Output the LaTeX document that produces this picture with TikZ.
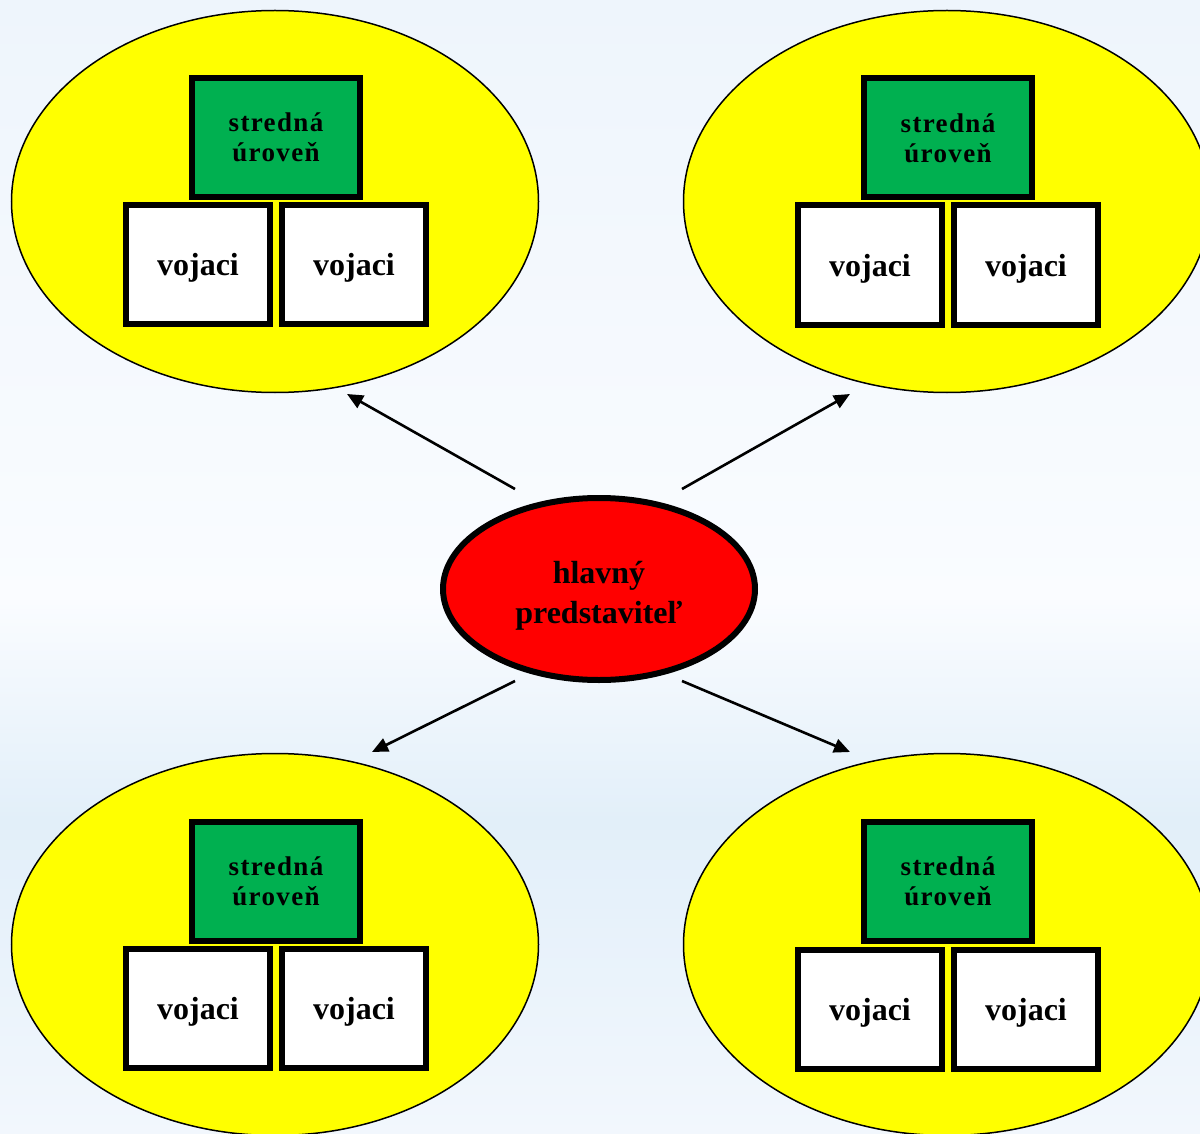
\documentclass[tikz,border=0pt]{standalone}
\usepackage{fontspec}
\setmainfont{Liberation Serif}
\usetikzlibrary{shapes.geometric,arrows.meta}
\definecolor{bgtop}{RGB}{238,245,252}
\definecolor{bgmid}{RGB}{250,252,255}
\definecolor{bgband}{RGB}{226,239,249}
\definecolor{bgbot}{RGB}{242,247,253}
\definecolor{yel}{RGB}{255,255,0}
\definecolor{grn}{RGB}{0,176,80}
\definecolor{rd}{RGB}{255,0,0}
\tikzset{
  group/.style={ellipse, draw=black, line width=1.5pt, fill=yel, inner sep=0pt,
    minimum width=527pt, minimum height=382pt},
  mid/.style={rectangle, draw=black, line width=6pt, fill=grn, inner sep=0pt,
    minimum width=168pt, minimum height=119pt, align=center,
    font=\fontsize{27}{30}\selectfont\bfseries\addfontfeature{LetterSpace=5}},
  soldier/.style={rectangle, draw=black, line width=6pt, fill=white, inner sep=0pt,
    minimum width=144pt, minimum height=119pt, text height=30pt, text depth=7pt,
    font=\fontsize{32}{36}\selectfont\bfseries},
  boss/.style={ellipse, draw=black, line width=6pt, fill=rd, inner sep=0pt,
    minimum width=312pt, minimum height=182pt, align=center,
    font=\fontsize{32}{40}\selectfont\bfseries},
  link/.style={line width=2.6pt, -{Triangle[length=16pt,width=14pt]}}
}
\begin{document}
\begin{tikzpicture}[x=1pt,y=-1pt]
\useasboundingbox (0,0) rectangle (1200,1134);
\clip (0,0) rectangle (1200,1134);
\shade[top color=bgtop, bottom color=bgmid] (0,0) rectangle (1200,600);
\shade[top color=bgmid, bottom color=bgband] (0,600) rectangle (1200,820);
\shade[top color=bgband, bottom color=bgbot] (0,820) rectangle (1200,1134);

% groups
\node[group] (gTL) at (275,201.5) {};
\node[group] (gTR) at (947,201.5) {};
\node[group] (gBL) at (275,944.5) {};
\node[group] (gBR) at (947,944.5) {};

% top-left
\node[mid] (mTL) at (276,137.5) {stredná\\úroveň};
\node[soldier] (sTL1) at (198,264.5) {vojaci};
\node[soldier] (sTL2) at (354,264.5) {vojaci};
% top-right
\node[mid] (mTR) at (948,138) {stredná\\úroveň};
\node[soldier] (sTR1) at (870,265) {vojaci};
\node[soldier] (sTR2) at (1026,265) {vojaci};
% bottom-left
\node[mid] (mBL) at (276,881) {stredná\\úroveň};
\node[soldier] (sBL1) at (198,1008) {vojaci};
\node[soldier] (sBL2) at (354,1008) {vojaci};
% bottom-right
\node[mid] (mBR) at (948,881) {stredná\\úroveň};
\node[soldier] (sBR1) at (870,1009) {vojaci};
\node[soldier] (sBR2) at (1026,1009) {vojaci};

% center
\node[boss] (boss) at (599,589) {\rule{0pt}{36pt}hlavný\\predstaviteľ};

% arrow ends
\coordinate (aTLs) at (515,489);
\coordinate (aTLe) at (347,394);
\coordinate (aTRs) at (682,489);
\coordinate (aTRe) at (850,394);
\coordinate (aBLs) at (515,681);
\coordinate (aBLe) at (372,752);
\coordinate (aBRs) at (682,681);
\coordinate (aBRe) at (850,752);
\draw[link] (aTLs) -- (aTLe);
\draw[link] (aTRs) -- (aTRe);
\draw[link] (aBLs) -- (aBLe);
\draw[link] (aBRs) -- (aBRe);
\end{tikzpicture}
\end{document}
